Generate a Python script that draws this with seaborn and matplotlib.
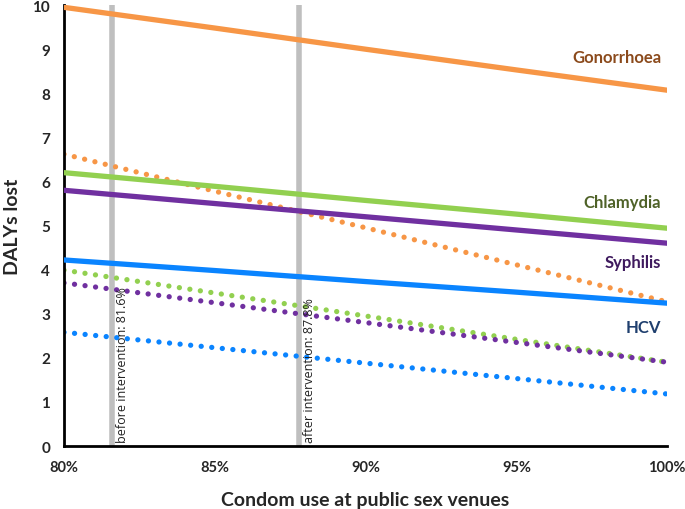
import matplotlib.pyplot as plt
import seaborn as sns
import pandas as pd

# Data
condom_use = [80, 85, 90, 95, 100]
gonorrhoea = [9.95, 9.48, 9.00, 8.53, 8.07]
gonorrhoea_dot = [6.62, 5.78, 4.95, 4.11, 3.27]
chlamydia = [6.20, 5.89, 5.57, 5.26, 4.94]
chlamydia_dot = [3.99, 3.47, 2.95, 2.42, 1.90]
syphilis = [5.80, 5.50, 5.20, 4.90, 4.60]
syphilis_dot = [3.70, 3.25, 2.80, 2.35, 1.90]
hcv = [4.22, 3.98, 3.73, 3.49, 3.24]
hcv_dot = [2.58, 2.23, 1.88, 1.53, 1.18]

interventions = [81.6, 87.8]
intervention_labels = ["before intervention: 81.6%", "after intervention: 87.8%"]

x_ticks = [80, 85, 90, 95, 100]
y_ticks = list(range(0, 11))

sns.set_style("white")
plt.rcParams['font.family'] = ['Lato', 'DejaVu Sans']

series = [
    ("Gonorrhoea", gonorrhoea, gonorrhoea_dot, "#F79646", "#8B4A1C", 8.82),
    ("Chlamydia", chlamydia, chlamydia_dot, "#92D050", "#4F6228", 5.53),
    ("Syphilis", syphilis, syphilis_dot, "#7030A0", "#3F1A5E", 4.17),
    ("HCV", hcv, hcv_dot, "#0A84FF", "#1F3F6E", 2.70),
]

fig = plt.figure(figsize=(6.85, 5.1), dpi=100)
ax = fig.add_axes([0.0934, 0.1235, 0.8806, 0.8645])

for xv, lab in zip(interventions, intervention_labels):
    ax.axvline(xv, color="#BFBFBF", lw=4, zorder=1)
    ax.text(xv + 0.12, 0.08, lab, rotation=90, ha="left", va="bottom",
            fontsize=9, family=['Open Sans', 'DejaVu Sans'], color="#222222", zorder=5)

for name, solid, dotted, color, txt_color, label_y in series:
    df = pd.DataFrame({"x": condom_use, "solid": solid, "dotted": dotted})
    sns.lineplot(data=df, x="x", y="dotted", ax=ax, color=color, lw=3.8,
                 linestyle=(0, (0.01, 2.0)), dash_capstyle="round",
                 solid_capstyle="round", zorder=2)
    sns.lineplot(data=df, x="x", y="solid", ax=ax, color=color, lw=3.8, zorder=3)
    ax.text(99.8, label_y, name, ha="right", va="center", fontsize=12,
            fontweight="bold", color=txt_color)

ax.set_xlim(80, 100)
ax.set_ylim(0, 10)
ax.set_xticks(x_ticks)
ax.set_xticklabels([f"{v}%" for v in x_ticks], fontweight="bold", fontsize=10.5)
ax.set_yticks(y_ticks)
ax.set_yticklabels([str(v) for v in y_ticks], fontweight="bold", fontsize=11)
ax.tick_params(axis="both", length=0, pad=10)
ax.set_xlabel("Condom use at public sex venues", fontsize=14, fontweight="bold", labelpad=12)
ax.set_ylabel("DALYs lost", fontsize=14, fontweight="bold", labelpad=8)
ax.grid(False)

for side in ["top", "right"]:
    ax.spines[side].set_visible(False)
for side in ["left", "bottom"]:
    ax.spines[side].set_color("black")
    ax.spines[side].set_linewidth(2)

plt.savefig("out.png", dpi=100)
